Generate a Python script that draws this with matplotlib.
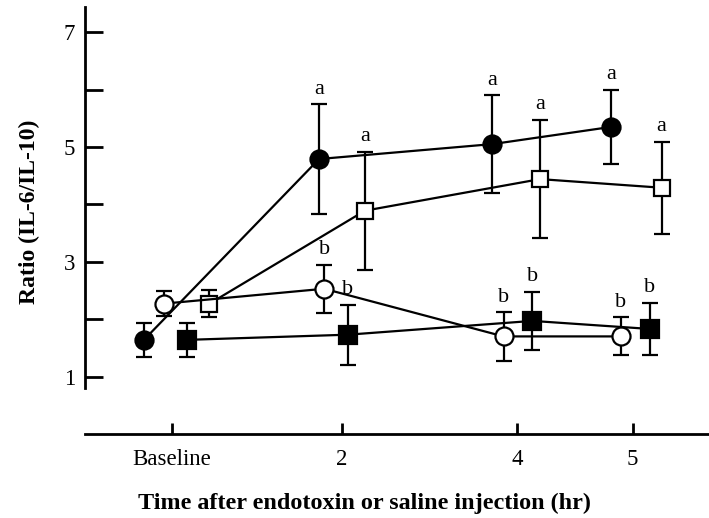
import matplotlib
matplotlib.use("Agg")
import matplotlib.pyplot as plt
import numpy as np

plt.rcParams['font.family'] = ['Liberation Serif', 'DejaVu Serif']

# ---- data ----
time_labels = ["Baseline", "2", "4", "5"]

endo_circle_mean = [1.64, 4.79, 5.05, 5.35]      # filled circles
endo_circle_err = [0.30, 0.95, 0.85, 0.65]
endo_square_mean = [2.27, 3.89, 4.44, 4.29]      # open squares
endo_square_err = [0.23, 1.03, 1.03, 0.80]
saline_circle_mean = [2.27, 2.53, 1.70, 1.70]    # open circles
saline_circle_err = [0.22, 0.42, 0.42, 0.33]
saline_square_mean = [1.64, 1.73, 1.97, 1.83]    # filled squares
saline_square_err = [0.30, 0.52, 0.50, 0.45]

# significance letters (per point, '' = none)
endo_circle_sig = ["", "a", "a", "a"]
endo_square_sig = ["", "a", "a", "a"]
saline_circle_sig = ["", "b", "b", "b"]
saline_square_sig = ["", "b", "b", "b"]

# ---- layout (positions on the axis, not data) ----
tick_pos = np.array([0.0, 2.0, 4.06, 5.42])
off_fc = np.array([-0.33, -0.27, -0.29, -0.25])
off_oc = np.array([-0.10, -0.21, -0.16, -0.14])
off_fs = np.array([0.18, 0.07, 0.18, 0.20])
off_os = np.array([0.44, 0.27, 0.27, 0.34])

W, H = 709, 518
fig = plt.figure(figsize=(W / 100, H / 100), dpi=100)
ax = fig.add_axes([85 / W, 1 - 434 / H, 1 - 85 / W, 434 / H])
ax.set_xlim((85 - 172) / 85, (709 - 172) / 85)
ax.set_ylim(0, 7.56)

lw = 1.6
common = dict(color='black', lw=lw, capsize=6, capthick=lw, elinewidth=lw)

def series(x, y, e, marker, mfc, ms):
    ax.errorbar(x, y, yerr=e, fmt='-', marker=marker, mfc=mfc, mec='black',
                mew=lw, ms=ms, zorder=3, **common)

series(tick_pos + off_fc, endo_circle_mean, endo_circle_err, 'o', 'black', 13)
series(tick_pos + off_os, endo_square_mean, endo_square_err, 's', 'white', 12)
series(tick_pos + off_oc, saline_circle_mean, saline_circle_err, 'o', 'white', 13)
series(tick_pos + off_fs, saline_square_mean, saline_square_err, 's', 'black', 13)

def letters(x, y, e, sig, dy=0.1):
    for xi, yi, ei, s in zip(x, y, e, sig):
        if s:
            ax.text(xi, yi + ei + dy, s, ha='center', va='bottom', fontsize=16)

letters(tick_pos + off_fc, endo_circle_mean, endo_circle_err, endo_circle_sig)
letters(tick_pos + off_os, endo_square_mean, endo_square_err, endo_square_sig)
letters(tick_pos + off_fs, saline_square_mean, saline_square_err, saline_square_sig)
letters(tick_pos + off_oc, saline_circle_mean, saline_circle_err, saline_circle_sig)

# axes styling
for side in ['top', 'right']:
    ax.spines[side].set_visible(False)
ax.spines['left'].set_bounds(0.8, 7.43)
ax.spines['left'].set_linewidth(2)
ax.spines['bottom'].set_linewidth(2)

ax.set_yticks([1, 2, 3, 4, 5, 6, 7])
ax.set_yticklabels(["1", "", "3", "", "5", "", "7"])
ax.tick_params(axis='y', direction='in', length=13, width=2, labelsize=16.5, pad=7)
ax.set_xticks(tick_pos)
ax.set_xticklabels(time_labels)
ax.tick_params(axis='x', direction='in', length=8, width=2, labelsize=16.5, pad=11)

fig.text(29 / W, 1 - 212 / H, "Ratio (IL-6/IL-10)", rotation=90, fontsize=17,
         fontweight='bold', ha='center', va='center')
fig.text(364 / W, 1 - 509 / H, "Time after endotoxin or saline injection (hr)",
         fontsize=17.4, fontweight='bold', ha='center', va='baseline')

fig.savefig("out.png", dpi=100)
